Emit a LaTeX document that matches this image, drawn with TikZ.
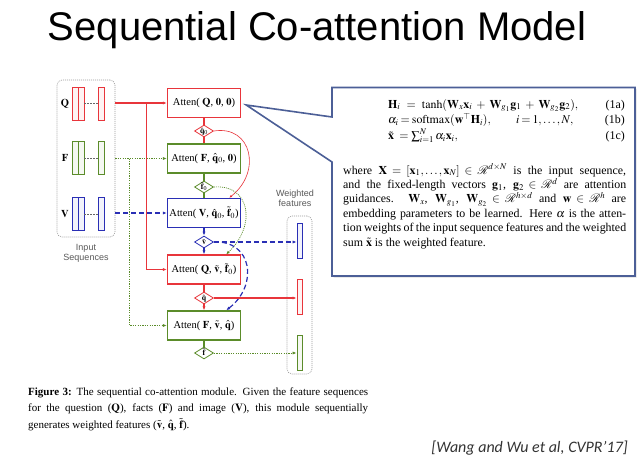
\documentclass[tikz,border=0pt]{standalone}
\usepackage{mathptmx}
\usepackage[no-math]{fontspec}
\setmainfont{Liberation Serif}
\newfontfamily\arialf{Liberation Sans}
\newfontfamily\calif{Carlito}
\usetikzlibrary{arrows.meta,shapes.geometric,shadows}
\definecolor{cred}{HTML}{E8353B}
\definecolor{cgreen}{HTML}{5B8C2A}
\definecolor{cblue}{HTML}{2A2FB5}
\definecolor{cslate}{HTML}{4C5F97}
\definecolor{cgray}{HTML}{9A9A9A}
\newcommand{\dlab}[1]{\makebox[0pt]{\raisebox{-2.5pt}[0pt][0pt]{$#1$}}}
\begin{document}
\begin{tikzpicture}[x=1pt,y=-1pt,
  attbox/.style={draw, line width=1.4pt, fill=white, minimum width=73pt, minimum height=29pt, inner sep=0pt, font=\fontsize{10.5}{11}\selectfont},
  dia/.style={diamond, draw, line width=0.8pt, fill=white, minimum width=19pt, minimum height=12pt, inner sep=0pt, font=\fontsize{8}{8}\selectfont},
  vbar/.style={draw, line width=0.9pt, fill=white, minimum width=5.5pt, minimum height=33pt, inner sep=0pt},
  arr/.style={-{Latex[length=4pt,width=3.2pt]}},
  gdot/.style={cgreen, line width=1pt, dash pattern=on 1.2pt off 1.2pt},
  bdash/.style={cblue, line width=1.2pt, dash pattern=on 5pt off 3pt},
  rline/.style={cred, line width=1.1pt},
  grp/.style={draw=cgray, line width=0.6pt, dash pattern=on 1pt off 1pt, rounded corners=5pt},
  lab/.style={font=\arialf\fontsize{9}{10}\selectfont, text=black!65, align=center},
  txtline/.style={anchor=base west, inner sep=0pt, font=\fontsize{11.9}{14}\selectfont},
  captxt/.style={anchor=base west, inner sep=0pt, font=\fontsize{11}{14}\selectfont}
]
\useasboundingbox (0,0) rectangle (640,460);
\fill[white] (0,0) rectangle (640,460);

% title
\node[anchor=base, inner sep=0pt, font=\arialf\fontsize{40}{40}\selectfont] (title) at (317,41) {Sequential Co-attention Model};

% input sequences group
\node[grp, minimum width=58pt, minimum height=157pt] (inbox) at (86,158.5) {};
\node[lab, anchor=north] (inlab) at (86,241) {Input\\Sequences};
\foreach \nm/\yy/\cc/\tt in {q/103.5/cred/Q, f/158/cgreen/F, v/214/cblue/V}{
  \node[font=\fontsize{10.5}{10.5}\selectfont] (l\nm) at (65,\yy) {$\mathbf{\tt}$};
  \node[vbar, draw=\cc, fill=\cc!6] (\nm1) at (75.3,\yy) {};
  \node[vbar, draw=\cc, fill=\cc!6] (\nm2) at (81.2,\yy) {};
  \node[vbar, draw=\cc, fill=\cc!6] (\nm3) at (101.5,\yy) {};
  \draw[black!60, line width=0.8pt, dash pattern=on 1.5pt off 1.5pt] (\nm2.east) -- (\nm3.west);
}

% attention boxes
\node[attbox, draw=cred] (a1) at (204,103) {Atten( $\mathbf{Q}$, $\mathbf{0}$, $\mathbf{0}$)};
\node[attbox, draw=cgreen] (a2) at (204,158.5) {Atten( $\mathbf{F}$, $\hat{\mathbf{q}}_0$, $\mathbf{0}$)};
\node[attbox, draw=cblue] (a3) at (204,213) {Atten( $\mathbf{V}$, $\hat{\mathbf{q}}_0$, $\tilde{\mathbf{f}}_0$)};
\node[attbox, draw=cred] (a4) at (204,269.5) {Atten( $\mathbf{Q}$, $\tilde{\mathbf{v}}$, $\tilde{\mathbf{f}}_0$)};
\node[attbox, draw=cgreen] (a5) at (204,325.5) {Atten( $\mathbf{F}$, $\tilde{\mathbf{v}}$, $\hat{\mathbf{q}}$)};

% diamonds
\node[dia, draw=cred] (d1) at (204,131) {\dlab{\hat{\mathbf{q}}_0}};
\node[dia, draw=cgreen] (d2) at (204,187) {\dlab{\tilde{\mathbf{f}}_0}};
\node[dia, draw=cblue] (d3) at (204,242) {\dlab{\tilde{\mathbf{v}}}};
\node[dia, draw=cred] (d4) at (204,298) {\dlab{\hat{\mathbf{q}}}};
\node[dia, draw=cgreen] (d5) at (204,353) {\dlab{\tilde{\mathbf{f}}}};

% input connectors
\path (a1.west) ++(-20.5,0) coordinate (qb);
\path (a2.west) ++(-37.5,0) coordinate (fb);
\draw[rline, arr] (inbox.east |- a1.west) -- (a1.west);
\draw[rline, arr] (qb) |- (a4.west);
\draw[gdot, arr] (inbox.east |- a2.west) -- (a2.west);
\draw[gdot, arr] (fb) |- (a5.west);
\draw[bdash, arr] (inbox.east |- a3.west) -- (a3.west);

% chain
\draw[cred, line width=1.4pt] (a1) -- (d1);
\draw[cred, line width=1.4pt] (d1) -- (a2);
\draw[cgreen, line width=1.4pt] (a2) -- (d2);
\draw[cgreen, line width=1.4pt] (d2) -- (a3);
\draw[cblue, line width=1.2pt, arr] (a3) -- (d3);
\draw[cblue, line width=1.2pt, arr] (d3) -- (a4);
\draw[cred, line width=1.2pt] (a4) -- (d4);
\draw[cred, line width=1.2pt, arr] (d4) -- (a5);
\draw[cgreen, line width=1.2pt] (a5) -- (d5);

% curved guidance connectors
\draw[cred, line width=0.6pt, -{Latex[length=3pt,width=2.5pt]}] (d1.east) .. controls (252,125) and (262,172) .. ([xshift=-12pt]a3.north east);
\draw[cgreen, line width=0.7pt, dash pattern=on 1pt off 1pt, -{Latex[length=3.5pt,width=3pt]}] (d2.east) .. controls (250,184) and (257,225) .. ([xshift=-15pt]a4.north east);
\draw[bdash, -{Latex[length=4pt,width=3.2pt]}] (d3.east) .. controls (252,240) and (259,285) .. ([xshift=-15pt]a5.north east);

% weighted features
\node[grp, minimum width=25pt, minimum height=158pt] (wbox) at (299.5,295) {};
\node[lab, anchor=south] (wlab) at (295,210) {Weighted\\features};
\node[vbar, draw=cblue, fill=cblue!6, minimum width=5pt, minimum height=35pt] (wb) at (299.5,240.5) {};
\node[vbar, draw=cred, fill=cred!6, minimum width=5pt, minimum height=35pt] (wr) at (299.5,296.5) {};
\node[vbar, draw=cgreen, fill=cgreen!6, minimum width=5pt, minimum height=35pt] (wg) at (299.5,353) {};
\draw[bdash, arr] (d3.east) -- (d3.east -| wb.west);
\draw[rline, arr] (d4.east) -- (d4.east -| wr.west);
\draw[gdot, arr] (d5.east) -- (d5.east -| wg.west);

% callout
\path (a1.east) ++(5,2) coordinate (ctip);
\draw[cslate, line width=1.6pt, fill=white, line join=miter, drop shadow={shadow xshift=1.5pt, shadow yshift=-1.5pt, opacity=0.25}]
  (332,87.5) -- (635,87.5) -- (635,276) -- (332,276) -- (332,162) -- (ctip) -- (332,117) -- cycle;

% equations
\node[txtline] (e1) at (388,108) {\makebox[190pt][s]{$\mathbf{H}_i = \tanh(\mathbf{W}_x\mathbf{x}_i + \mathbf{W}_{g_1}\mathbf{g}_1 + \mathbf{W}_{g_2}\mathbf{g}_2),$}};
\node[txtline] (e2) at (388,123.5) {\makebox[182pt][s]{$\alpha_i = \mathrm{softmax}(\mathbf{w}^{\top}\mathbf{H}_i),\qquad i = 1,\ldots,N,$}};
\node[txtline] (e3) at (388,139.5) {$\tilde{\mathbf{x}}\;= \textstyle\sum_{i=1}^{N}\alpha_i\mathbf{x}_i,$};
\node[txtline, anchor=base east] (t1) at (625,108) {(1a)};
\node[txtline, anchor=base east] (t2) at (625,123.5) {(1b)};
\node[txtline, anchor=base east] (t3) at (625,139.5) {(1c)};

% paragraph
\node[txtline] (p1) at (343,174) {\makebox[283pt][s]{where $\mathbf{X} = [\mathbf{x}_1, \ldots, \mathbf{x}_N] \in \mathcal{R}^{d\times N}$ is the input sequence,}};
\node[txtline] (p2) at (343,188.4) {\makebox[283pt][s]{and the fixed-length vectors $\mathbf{g}_1$, $\mathbf{g}_2 \in \mathcal{R}^{d}$ are attention}};
\node[txtline] (p3) at (343,202.8) {\makebox[283pt][s]{guidances. $\mathbf{W}_x$, $\mathbf{W}_{g_1}$, $\mathbf{W}_{g_2} \in \mathcal{R}^{h\times d}$ and $\mathbf{w} \in \mathcal{R}^{h}$ are}};
\node[txtline] (p4) at (343,217.2) {\makebox[283pt][s]{embedding parameters to be learned. Here $\alpha$ is the atten-}};
\node[txtline] (p5) at (343,231.6) {\makebox[283pt][s]{tion weights of the input sequence features and the weighted}};
\node[txtline] (p6) at (343,246) {sum $\tilde{\mathbf{x}}$ is the weighted feature.};

% caption
\node[captxt] (c1) at (28,395) {\makebox[340pt][s]{\textbf{Figure 3:} The sequential co-attention module. Given the feature sequences}};
\node[captxt] (c2) at (28,411.5) {\makebox[340pt][s]{for the question ($\mathbf{Q}$), facts ($\mathbf{F}$) and image ($\mathbf{V}$), this module sequentially}};
\node[captxt] (c3) at (28,428) {generates weighted features ($\tilde{\mathbf{v}}$, $\hat{\mathbf{q}}$, $\tilde{\mathbf{f}}$).};

% citation
\node[anchor=base east, inner sep=0pt, font=\calif\itshape\fontsize{16}{16}\selectfont, text=black!80] (cite) at (628,452) {[Wang and Wu et al, CVPR’17]};
\end{tikzpicture}
\end{document}
